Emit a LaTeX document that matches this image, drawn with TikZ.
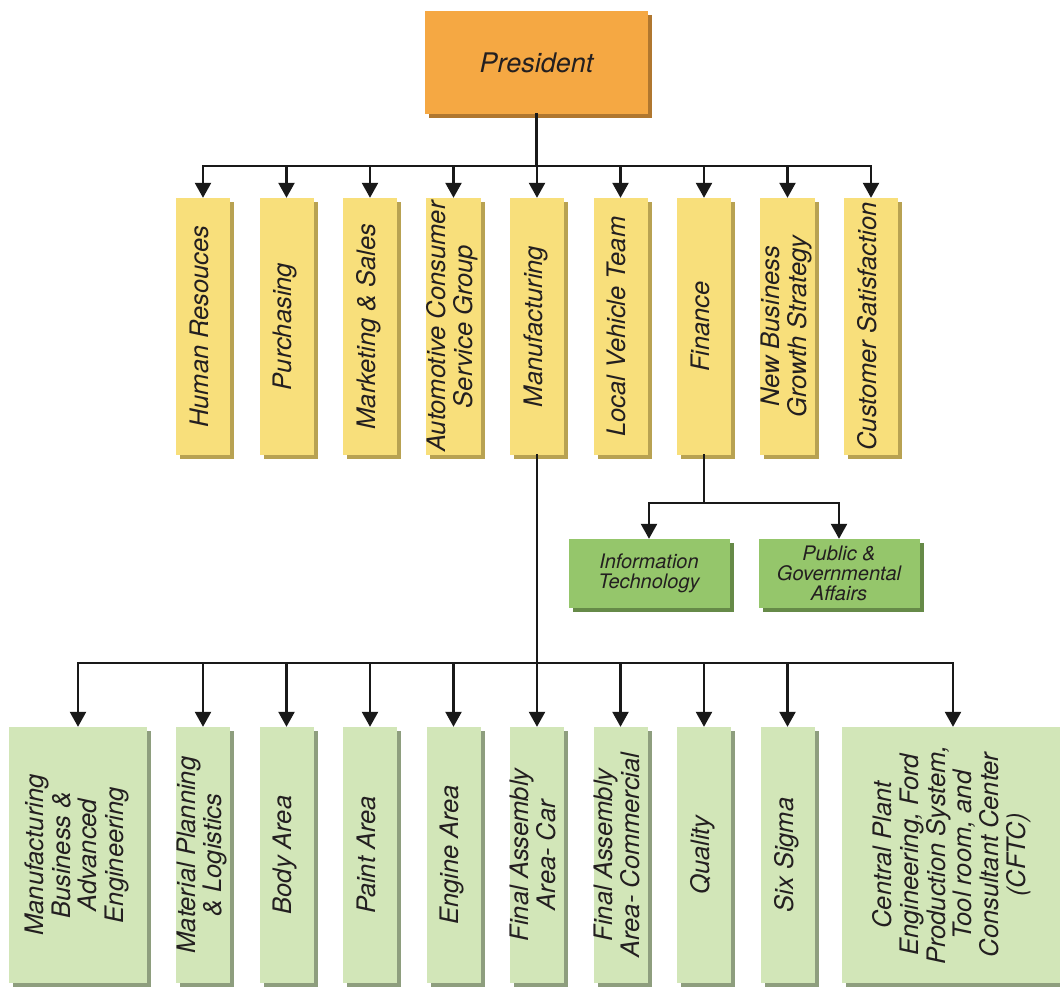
\documentclass[tikz,border=0pt]{standalone}
\usepackage{fontspec}
\setmainfont{TeX Gyre Heros}
\usepackage{graphicx}
\usetikzlibrary{arrows.meta,shadows}
\definecolor{orangeF}{HTML}{F5A843}
\definecolor{orangeS}{HTML}{B0772F}
\definecolor{yellowF}{HTML}{F8DF7B}
\definecolor{yellowS}{HTML}{B8A252}
\definecolor{midF}{HTML}{95C66B}
\definecolor{midS}{HTML}{668A48}
\definecolor{lightF}{HTML}{D2E6B8}
\definecolor{lightS}{HTML}{8E9E7E}
\definecolor{ink}{HTML}{231F20}
\newcommand\vlab[1]{\rotatebox{90}{\begin{tabular}{@{}c@{}}#1\end{tabular}}}
\begin{document}
\begin{tikzpicture}[x=1pt,y=-1pt,
  every node/.style={inner sep=0pt,text=ink},
  presbox/.style={rectangle,fill=orangeF,minimum width=223pt,minimum height=103pt,
    drop shadow={shadow xshift=4pt,shadow yshift=-4pt,opacity=1,fill=orangeS},
    font=\itshape\fontsize{27}{28}\selectfont},
  ybox/.style={rectangle,fill=yellowF,minimum width=54pt,minimum height=257pt,
    drop shadow={shadow xshift=4pt,shadow yshift=-4pt,opacity=1,fill=yellowS},
    font=\itshape\fontsize{25.5}{27}\selectfont},
  mbox/.style={rectangle,fill=midF,minimum width=161pt,minimum height=69pt,align=center,
    drop shadow={shadow xshift=4pt,shadow yshift=-4pt,opacity=1,fill=midS},
    font=\itshape\fontsize{20}{20}\selectfont},
  gbox/.style={rectangle,fill=lightF,minimum width=54pt,minimum height=256pt,
    drop shadow={shadow xshift=4pt,shadow yshift=-4pt,opacity=1,fill=lightS},
    font=\itshape\fontsize{25.5}{26.5}\selectfont},
  conn/.style={line width=2.4pt,draw=black!90,line cap=rect},
  arr/.style={line width=2.4pt,draw=black!90,-{Triangle[width=16pt,length=15pt]}}
]
\useasboundingbox (0,0) rectangle (1060,989);
\clip (0,0) rectangle (1060,989);
\fill[white] (0,0) rectangle (1060,989);

\node[presbox] (pres) at (536.5,62.5) {President};

\node[ybox] (hr)  at (203,326.5)   {\vlab{Human Resouces}};
\node[ybox] (pur) at (286.5,326.5) {\vlab{Purchasing}};
\node[ybox] (mks) at (370,326.5)   {\vlab{Marketing \& Sales}};
\node[ybox] (acs) at (453.5,326.5) {\vlab{Automotive Consumer\\Service Group}};
\node[ybox] (man) at (537,326.5)   {\vlab{Manufacturing}};
\node[ybox] (lvt) at (620.5,326.5) {\vlab{Local Vehicle Team}};
\node[ybox] (fin) at (704,326.5)   {\vlab{Finance}};
\node[ybox] (nbg) at (787.5,326.5) {\vlab{New Business\\Growth Strategy}};
\node[ybox] (cs)  at (871,326.5)   {\vlab{Customer Satisfaction}};

\node[mbox] (it)  at (649,573.5) {Information\\Technology};
\node[mbox] (pga) at (839,573.5) {Public \&\\Governmental\\Affairs};

\node[gbox,minimum width=138pt] (mba) at (78,855) {\vlab{Manufacturing\\Business \&\\Advanced\\Engineering}};
\node[gbox] (mpl) at (203,855)   {\vlab{Material Planning\\\& Logistics}};
\node[gbox] (bod) at (286.5,855) {\vlab{Body Area}};
\node[gbox] (pnt) at (370,855)   {\vlab{Paint Area}};
\node[gbox] (eng) at (453.5,855) {\vlab{Engine Area}};
\node[gbox] (fac) at (537,855)   {\vlab{Final Assembly\\Area- Car}};
\node[gbox] (fam) at (620.5,855) {\vlab{Final Assembly\\Area- Commercial}};
\node[gbox] (qua) at (704,855)   {\vlab{Quality}};
\node[gbox] (six) at (787.5,855) {\vlab{Six Sigma}};
\node[gbox,minimum width=222pt] (cpe) at (953,855) {\vlab{Central Plant\\Engineering, Ford\\Production System,\\Tool room, and\\Consultant Center\\(CFTC)}};

\coordinate (y1) at (0,166);
\coordinate (y2) at (0,503);
\coordinate (y3) at (0,663);

\draw[conn] (pres.south) -- (pres.south |- y1);
\draw[conn] (hr.north |- y1) -- (cs.north |- y1);
\foreach \n in {hr,pur,mks,acs,man,lvt,fin,nbg,cs}
  \draw[arr] (\n.north |- y1) -- (\n.north);

\draw[conn] (fin.south) -- (fin.south |- y2);
\draw[conn] (it.north |- y2) -- (pga.north |- y2);
\foreach \n in {it,pga}
  \draw[arr] (\n.north |- y2) -- (\n.north);

\draw[conn] (man.south) -- (man.south |- y3);
\draw[conn] (mba.north |- y3) -- (cpe.north |- y3);
\foreach \n in {mba,mpl,bod,pnt,eng,fac,fam,qua,six,cpe}
  \draw[arr] (\n.north |- y3) -- (\n.north);
\end{tikzpicture}
\end{document}
